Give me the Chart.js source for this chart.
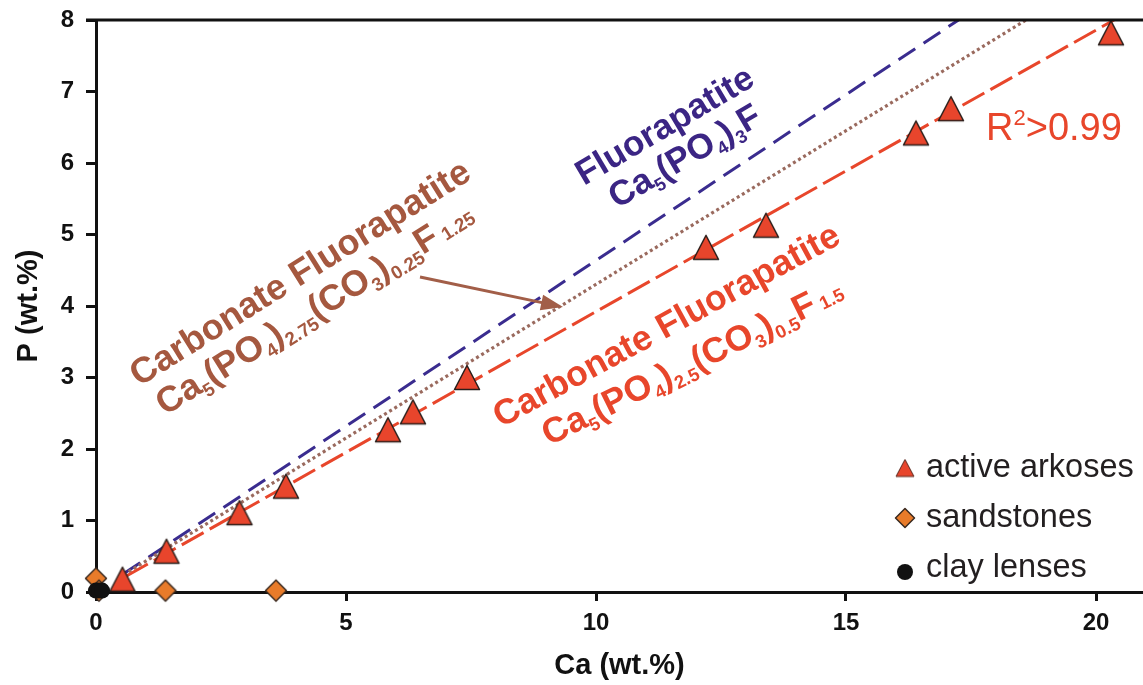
<!DOCTYPE html>
<html><head><meta charset="utf-8">
<script src="https://cdn.jsdelivr.net/npm/chart.js@4"></script>
<style>html,body{margin:0;padding:0;background:#fff;}#wrap{width:1143px;height:685px;position:relative;}</style>
</head><body><div id="wrap"><canvas id="c" width="1143" height="685"></canvas></div>
<script>
// ---- data ----
const arkosesCa = [0.53, 1.41, 2.87, 3.80, 5.84, 6.34, 7.42, 12.2, 13.4, 16.4, 17.1, 20.3];
const arkosesP  = [0.18, 0.57, 1.11, 1.48, 2.27, 2.52, 3.00, 4.82, 5.13, 6.42, 6.76, 7.82];
const sandCa = [0.0, 0.06, 1.39, 3.60];
const sandP  = [0.19, 0.02, 0.02, 0.02];
const clayCa = [0.0, 0.06, 0.12];
const clayP  = [0.02, 0.02, 0.02];
const fluorLineCa = [0.55, 17.25];
const fluorLineP  = [0.255, 8.0];
const cfa125LineCa = [0.55, 18.6];
const cfa125LineP  = [0.24, 8.0];
const cfa15LineCa = [0.60, 20.36];
const cfa15LineP  = [0.22, 8.0];
const xTicks = [0, 5, 10, 15, 20];
const yTicks = [0, 1, 2, 3, 4, 5, 6, 7, 8];
const legendLabels = ['active arkoses', 'sandstones', 'clay lenses'];

const pts = (xs, ys) => xs.map((x, i) => ({x: x, y: ys[i]}));
const FONT = '"Liberation Sans", Arial, Helvetica, sans-serif';
const RED = '#E8462B', BROWN = '#A5583F', BLUE = '#3B2584';

function triCanvas(w, h, fill, stroke, lw) {
  const pad = lw + 1;
  const c = document.createElement('canvas');
  c.width = w + pad * 2; c.height = h + pad * 2;
  const g = c.getContext('2d');
  g.beginPath();
  g.moveTo(c.width / 2, pad); g.lineTo(pad + w, pad + h); g.lineTo(pad, pad + h); g.closePath();
  g.fillStyle = fill; g.fill();
  g.lineWidth = lw; g.strokeStyle = stroke; g.lineJoin = 'round'; g.stroke();
  return c;
}
function diaCanvas(w, fill, stroke, lw) {
  const pad = lw + 1;
  const c = document.createElement('canvas');
  c.width = w + pad * 2; c.height = w + pad * 2;
  const g = c.getContext('2d'); const m = c.width / 2;
  g.beginPath();
  g.moveTo(m, pad); g.lineTo(pad + w, m); g.lineTo(m, pad + w); g.lineTo(pad, m); g.closePath();
  g.fillStyle = fill; g.fill();
  g.lineWidth = lw; g.strokeStyle = stroke; g.lineJoin = 'round'; g.stroke();
  return c;
}
const triImg = triCanvas(25, 24, '#E8452C', '#2a1e1a', 1.5);
const diaImg = diaCanvas(21, '#E87B2A', '#3a2a20', 1.5);
const triLeg = triCanvas(18, 17, '#E8452C', '#5a2a20', 1);
const diaLeg = diaCanvas(19, '#E87B2A', '#3a2a20', 1.5);

function drawRich(ctx, x, y, ang, parts, size, color, weight) {
  ctx.save();
  ctx.translate(x, y);
  ctx.rotate(-ang * Math.PI / 180);
  ctx.fillStyle = color; ctx.textAlign = 'left'; ctx.textBaseline = 'alphabetic';
  let cx = 0;
  for (const [t, k] of parts) {
    let s = size, dy = 0;
    if (k === 's') { s = size * 0.52; dy = size * 0.2; }
    else if (k === 's0') { s = size * 0.52; dy = size * 0.02; }
    else if (k === 'u') { s = size * 0.58; dy = -size * 0.4; }
    ctx.font = weight + ' ' + s + 'px ' + FONT;
    ctx.fillText(t, cx, dy);
    cx += ctx.measureText(t).width;
  }
  ctx.restore();
}

const annot = {
  id: 'annot',
  afterDraw(chart) {
    const ctx = chart.ctx, a = chart.chartArea;
    // top frame line
    ctx.save();
    ctx.strokeStyle = '#111'; ctx.lineWidth = 3;
    ctx.beginPath(); ctx.moveTo(a.left - 10, a.top); ctx.lineTo(a.right, a.top); ctx.stroke();
    // arrow
    ctx.strokeStyle = '#A25E48'; ctx.fillStyle = '#A25E48'; ctx.lineWidth = 3;
    const x1 = 420, y1 = 277, x2 = 563, y2 = 307;
    const an = Math.atan2(y2 - y1, x2 - x1);
    const hl = 22, hw = 8;
    const bx = x2 - hl * Math.cos(an), by = y2 - hl * Math.sin(an);
    ctx.beginPath(); ctx.moveTo(x1, y1); ctx.lineTo(bx + 3 * Math.cos(an), by + 3 * Math.sin(an)); ctx.stroke();
    ctx.beginPath();
    ctx.moveTo(x2, y2);
    ctx.lineTo(bx + hw * Math.sin(an), by - hw * Math.cos(an));
    ctx.lineTo(bx - hw * Math.sin(an), by + hw * Math.cos(an));
    ctx.closePath(); ctx.fill();
    ctx.restore();

    // labels
    drawRich(ctx, 139, 387, 32, [['Carbonate Fluorapatite', 'n']], 36, BROWN, 'bold');
    drawRich(ctx, 165, 416, 32, [['Ca', 'n'], ['5', 's'], ['(PO', 'n'], ['4', 's'], [')', 'n'], ['2.75', 's'],
      ['(CO', 'n'], ['3', 's'], [')', 'n'], ['0.25', 's'], ['F', 'n'], [' 1.25', 's0']], 36, BROWN, 'bold');
    drawRich(ctx, 584, 186, 30.5, [['Fluorapatite', 'n']], 35, BLUE, 'bold');
    drawRich(ctx, 617, 209, 30.5, [['Ca', 'n'], ['5', 's'], ['(PO', 'n'], ['4', 's'], [')', 'n'], ['3', 's'], ['F', 'n']], 35, BLUE, 'bold');
    drawRich(ctx, 501, 428, 28.5, [['Carbonate Fluorapatite', 'n']], 35.5, RED, 'bold');
    drawRich(ctx, 549, 446, 26.5, [['Ca', 'n'], ['5', 's'], ['(PO', 'n'], ['4', 's'], [')', 'n'], ['2.5', 's'],
      ['(CO', 'n'], ['3', 's'], [')', 'n'], ['0.5', 's'], ['F', 'n'], [' 1.5', 's0']], 35.5, RED, 'bold');
    drawRich(ctx, 986, 140, 0, [['R', 'n'], ['2', 'u'], ['>0.99', 'n']], 38, RED, 'normal');

    // legend
    ctx.save();
    ctx.drawImage(triLeg, 905 - triLeg.width / 2, 468 - triLeg.height / 2);
    ctx.drawImage(diaLeg, 905 - diaLeg.width / 2, 518 - diaLeg.height / 2);
    ctx.fillStyle = '#111'; ctx.beginPath(); ctx.arc(905, 572, 8, 0, Math.PI * 2); ctx.fill();
    ctx.fillStyle = '#231f20'; ctx.font = '32.5px ' + FONT; ctx.textAlign = 'left'; ctx.textBaseline = 'alphabetic';
    ctx.fillText(legendLabels[0], 926, 477);
    ctx.fillText(legendLabels[1], 926, 527);
    ctx.fillText(legendLabels[2], 926, 577);
    // axis titles
    ctx.fillStyle = '#111'; ctx.font = 'bold 29px ' + FONT; ctx.textAlign = 'center'; ctx.textBaseline = 'middle';
    ctx.fillText('Ca (wt.%)', (a.left + a.right) / 2, 666);
    ctx.translate(29, (a.top + a.bottom) / 2); ctx.rotate(-Math.PI / 2);
    ctx.fillText('P (wt.%)', 0, 0);
    ctx.restore();
  }
};

const tickFont = {family: FONT, size: 24, weight: 'bold'};
new Chart(document.getElementById('c'), {
  type: 'scatter',
  data: {
    datasets: [
      {label: legendLabels[2], data: pts(clayCa, clayP), pointStyle: 'circle', pointRadius: 8,
        backgroundColor: '#111', borderColor: '#111', borderWidth: 0, clip: false},
      {label: legendLabels[1], data: pts(sandCa, sandP), pointStyle: diaImg, clip: false},
      {label: legendLabels[0], data: pts(arkosesCa, arkosesP), pointStyle: triImg, clip: false},
      {type: 'line', label: 'CFA 1.5', data: pts(cfa15LineCa, cfa15LineP), borderColor: RED, borderWidth: 3,
        borderDash: [25, 7], pointRadius: 0, fill: false, showLine: true},
      {type: 'line', label: 'CFA 1.25', data: pts(cfa125LineCa, cfa125LineP), borderColor: '#9A6A5E', borderWidth: 3.2,
        borderDash: [3, 3], pointRadius: 0, fill: false, showLine: true},
      {type: 'line', label: 'FA', data: pts(fluorLineCa, fluorLineP), borderColor: '#3A2C8F', borderWidth: 3,
        borderDash: [20, 10], pointRadius: 0, fill: false, showLine: true}
    ]
  },
  options: {
    responsive: false, animation: false, devicePixelRatio: 1,
    layout: {autoPadding: false, padding: {top: 20, right: 0, left: 0, bottom: 0}},
    plugins: {legend: {display: false}, tooltip: {enabled: false}},
    scales: {
      x: {type: 'linear', min: 0, max: 20.94,
        afterBuildTicks: s => { s.ticks = xTicks.map(v => ({value: v})); },
        afterFit: s => { s.height = 93; s.paddingLeft = 0; s.paddingRight = 0; },
        ticks: {font: tickFont, color: '#111', padding: 8, maxRotation: 0, includeBounds: false},
        grid: {drawOnChartArea: false, drawTicks: true, tickLength: 9, lineWidth: 3, color: '#111'},
        border: {display: true, width: 3, color: '#111'}},
      y: {type: 'linear', min: 0, max: 8,
        afterBuildTicks: s => { s.ticks = yTicks.map(v => ({value: v})); },
        afterFit: s => { s.width = 96; s.paddingTop = 0; s.paddingBottom = 0; },
        ticks: {font: tickFont, color: '#111', padding: 12, includeBounds: false},
        grid: {drawOnChartArea: false, drawTicks: true, tickLength: 10, lineWidth: 3, color: '#111'},
        border: {display: true, width: 3, color: '#111'}}
    }
  },
  plugins: [annot]
});
</script></body></html>
